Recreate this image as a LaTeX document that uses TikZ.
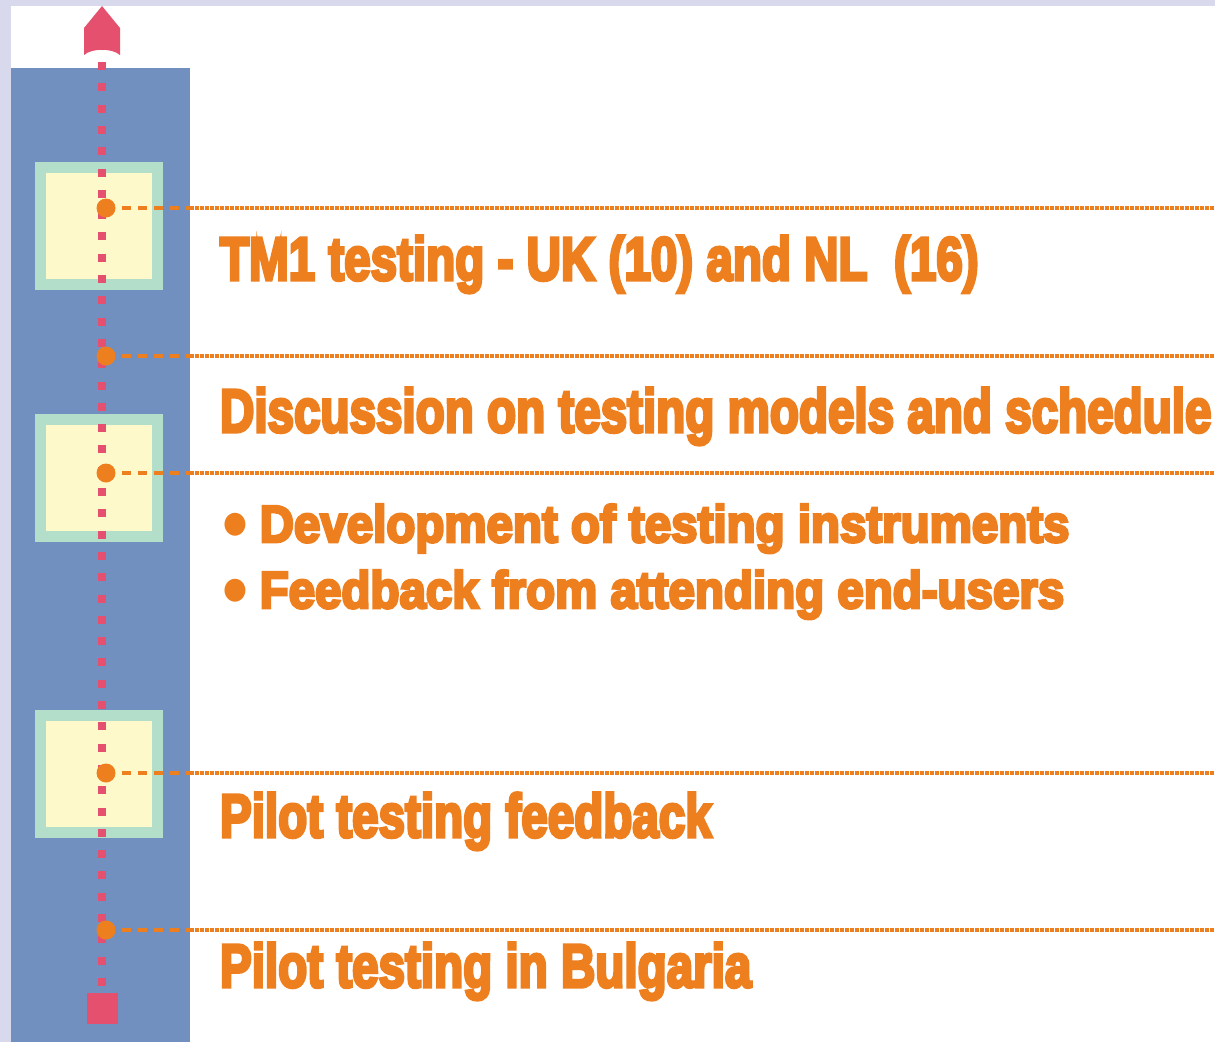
\documentclass[tikz,border=0pt]{standalone}
\usepackage{fontspec}
\newfontfamily\lblfont[UprightFont={* Bold},UprightFeatures={FakeBold=5.5}]{Liberation Sans}
\newfontfamily\symfont{DejaVu Sans}
\definecolor{lav}{HTML}{D9D9EE}
\definecolor{blueC}{HTML}{7190C0}
\definecolor{yel}{HTML}{FEF9CB}
\definecolor{grn}{HTML}{B3DFCA}
\definecolor{pinkC}{HTML}{E4506E}
\definecolor{orC}{HTML}{EE7F1F}
\newcommand\bulmark{\raisebox{10pt}{\symfont\fontsize{30}{30}\selectfont ●}}
\begin{document}
\begin{tikzpicture}[x=1pt,y=-1pt,
  lbl/.style={anchor=base west, inner sep=0pt, outer sep=0pt, text=orC, font=\lblfont\fontsize{61}{61}\selectfont},
  sub/.style={lbl, font=\lblfont\fontsize{52}{52}\selectfont, text depth=4pt},
  stepbox/.style={draw=grn, fill=yel, line width=11pt, minimum size=117pt, inner sep=0pt},
  evdot/.style={circle, fill=orC, minimum size=19pt, inner sep=0pt},
  shortdash/.style={draw=orC, line width=4pt, dash pattern=on 9pt off 7pt, shorten <=6pt},
  finedash/.style={draw=orC, line width=4pt, dash pattern=on 4pt off 1pt},
  pinkdots/.style={draw=pinkC, line width=8pt, dash pattern=on 8pt off 13.3pt},
  startbox/.style={fill=pinkC, minimum size=31pt, inner sep=0pt}
]
\useasboundingbox (0,0) rectangle (1215,1042);
\fill[lav] (0,0) rectangle (1215,1042);
\fill[white] (11,6) rectangle (1215,1042);
\fill[blueC] (11,68) rectangle (190,1042);
\node[stepbox] (s1) at (99,226) {};
\node[stepbox] (s2) at (99,477.5) {};
\node[stepbox] (s3) at (99,773.5) {};
\node[startbox] (start) at (102,1008) {};
\coordinate (ab) at (102,62);
\draw[pinkdots] (ab) -- (start.north);
\fill[pinkC] (102,6) -- (120,28) -- (120,55) .. controls (112,48) and (92,48) .. (84,55) -- (84,28) -- cycle;
\foreach \y/\i in {208/1,356/2,473/3,773/4,930/5}{
  \node[evdot] (d\i) at (106,\y) {};
  \coordinate (m\i) at (190,\y);
  \coordinate (e\i) at (1215,\y);
  \draw[shortdash] (d\i.east) -- (m\i);
  \draw[finedash] (m\i) -- (e\i);
}
\node[lbl] (t1) at (220,280) {\scalebox{0.78}[1]{TM1 testing - UK (10) and NL\ \ (16)}};
\node[lbl] (t2) at (220,432) {\scalebox{0.78}[1]{Discussion on testing models and schedule}};
\node[sub] (t3) at (223,542) {\scalebox{0.913}[1]{\bulmark\hspace{14pt}Development of testing instruments}};
\node[sub] (t4) at (223,608) {\scalebox{0.913}[1]{\bulmark\hspace{14pt}Feedback from attending end-users}};
\node[lbl] (t5) at (220,837) {\scalebox{0.78}[1]{Pilot testing feedback}};
\node[lbl] (t6) at (220,987) {\scalebox{0.78}[1]{Pilot testing in Bulgaria}};
\end{tikzpicture}
\end{document}
